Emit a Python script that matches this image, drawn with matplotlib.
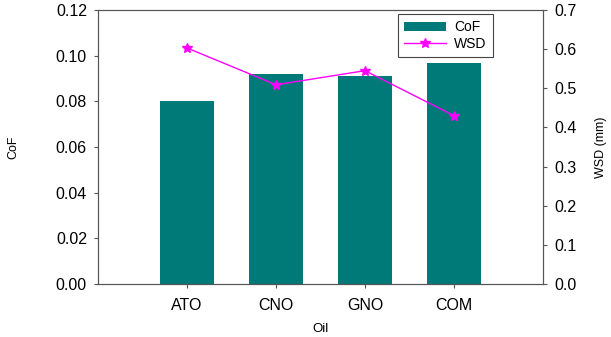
import matplotlib.pyplot as plt
import numpy as np

oils = ['ATO', 'CNO', 'GNO', 'COM']
cof = [0.080, 0.092, 0.091, 0.097]
wsd = [0.603, 0.509, 0.545, 0.430]

plt.rcParams['font.family'] = ['Liberation Sans', 'DejaVu Sans']

fig = plt.figure(figsize=(6.11, 3.37), dpi=100)
ax = fig.add_axes([98 / 611, 1 - 284 / 337, 445 / 611, 274 / 337])
x = np.arange(1, len(oils) + 1)

bars = ax.bar(x, cof, width=0.6, color='#007a78', label='CoF', zorder=2)
ax.set_xlim(0, 5)
ax.set_ylim(0, 0.12)
ax.set_yticks(np.arange(0, 0.121, 0.02))
ax.yaxis.set_major_formatter(plt.FormatStrFormatter('%.2f'))
ax.set_xticks(x)
ax.set_xticklabels(oils)
ax.set_xlabel('Oil', fontsize=9.5, labelpad=7)
ax.set_ylabel('CoF', fontsize=9, labelpad=26)
ax.tick_params(direction='out', labelsize=11.5, color='#555555', length=3)
ax.tick_params(axis='y', pad=5)
ax.tick_params(axis='x', pad=7)

ax2 = ax.twinx()
line, = ax2.plot(x, wsd, color='#ff00ff', marker='*', markersize=7, lw=1, label='WSD')
ax2.set_ylim(0, 0.7)
ax2.set_yticks(np.arange(0, 0.71, 0.1))
ax2.yaxis.set_major_formatter(plt.FormatStrFormatter('%.1f'))
ax2.set_ylabel('WSD (mm)', fontsize=9, labelpad=13)
ax2.tick_params(direction='out', labelsize=11.5, color='#555555', length=3, pad=5)

for a in (ax, ax2):
    for s in a.spines.values():
        s.set_color('#555555')

leg = ax2.legend([bars, line], ['CoF', 'WSD'], loc='upper left',
                 bbox_to_anchor=(300 / 445, 1 - 4 / 274), fontsize=10,
                 fancybox=False, edgecolor='#444444', framealpha=1,
                 handlelength=3.0, handletextpad=0.6, borderpad=0.45,
                 labelspacing=0.2, borderaxespad=0)
leg.get_frame().set_linewidth(0.8)

fig.savefig('out.png', dpi=100)
